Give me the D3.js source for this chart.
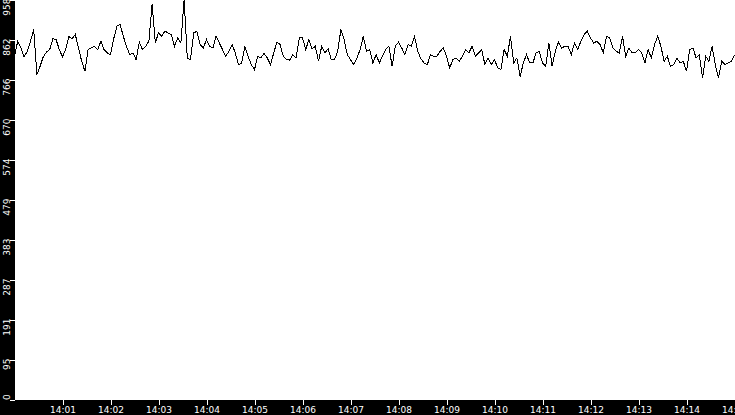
<!DOCTYPE html>
<html>
<head>
<meta charset="utf-8">
<script src="https://cdn.jsdelivr.net/npm/d3@7"></script>
<style>
  html, body { margin: 0; padding: 0; background: #000; }
  svg { display: block; }
</style>
</head>
<body>
<div id="chart"></div>
<script>
// samples every 4 seconds from 14:00:00
var startTime = "2024-01-01 14:00:00";
var stepSeconds = 4;

var values = [
  822,858,842,821,834,858,886,778,798,821,832,838,864,862,838,821,838,869,864,874,842,810,786,838,842,846,838,858,838,830,826,864,894,898,870,846,826,830,
  814,856,838,846,858,946,854,878,870,882,878,874,846,866,854,958,818,814,878,882,850,842,862,846,842,870,854,838,822,834,850,830,802,806,846,822,802,790,
  822,818,829,818,802,830,856,850,822,814,813,826,818,866,866,838,862,840,846,810,846,830,840,814,814,834,886,862,826,814,802,818,838,870,834,838,806,
  826,806,822,838,846,798,846,856,842,826,850,846,870,834,816,806,802,826,822,822,834,842,822,794,814,818,810,822,837,830,846,822,830,838,802,818,802,814,
  794,790,838,822,870,806,818,773,806,826,806,806,830,834,806,798,854,798,834,856,842,846,846,826,854,838,858,874,882,866,854,858,850,830,870,866,842,
  834,830,870,822,842,830,830,838,830,806,838,818,850,870,846,810,822,798,802,818,806,810,786,838,842,818,826,770,822,810,846,802,770,810,802,806,810,826
];

var xTickLabels = ["14:01","14:02","14:03","14:04","14:05","14:06","14:07","14:08",
                   "14:09","14:10","14:11","14:12","14:13","14:14","14:15"];
var yTickLabels = ["0","95","191","287","383","479","574","670","766","862","958"];

var width = 735, height = 415;
var left = 15, plotBottom = 400;

var parseFull = d3.timeParse("%Y-%m-%d %H:%M:%S");
var parseTick = d3.timeParse("%Y-%m-%d %H:%M");
var t0 = parseFull(startTime);

var data = values.map(function(v, i) {
  return { t: d3.timeSecond.offset(t0, i * stepSeconds), v: v };
});

var svg = d3.select("#chart").append("svg")
  .attr("width", width)
  .attr("height", height);

svg.append("rect")
  .attr("x", 0).attr("y", 0)
  .attr("width", width).attr("height", height)
  .attr("fill", "#000");

svg.append("rect")
  .attr("x", left).attr("y", 0)
  .attr("width", width - left).attr("height", plotBottom)
  .attr("fill", "#fff");

var x = d3.scaleTime()
  .domain([t0, d3.timeMinute.offset(t0, 15)])
  .range([left - 0.5, width - 0.5]);

var yMax = d3.max(values);
var y = d3.scaleLinear()
  .domain([0, yMax])
  .range([plotBottom - 0.5, -0.5]);

var line = d3.line()
  .x(function(d) { return x(d.t); })
  .y(function(d) { return y(d.v); });

svg.append("path")
  .datum(data)
  .attr("d", line)
  .attr("fill", "none")
  .attr("stroke", "#000")
  .attr("stroke-width", 1)
  .style("shape-rendering", "crispEdges");

// x axis
var xTicks = xTickLabels.map(function(s) { return parseTick("2024-01-01 " + s); });
var xAxis = d3.axisBottom(x)
  .tickValues(xTicks)
  .tickFormat(d3.timeFormat("%H:%M"))
  .tickSize(5)
  .tickPadding(2);

var gx = svg.append("g")
  .attr("transform", "translate(0," + plotBottom + ")")
  .call(xAxis);
gx.select(".domain").remove();
gx.selectAll("line").attr("stroke", "#fff").style("shape-rendering", "crispEdges");
gx.selectAll("text")
  .attr("fill", "#fff")
  .style("font-family", "'DejaVu Sans', sans-serif")
  .style("font-size", "9px");

// y axis
var yTicks = yTickLabels.map(function(s, i) { return yMax * i / 10; });
var yAxis = d3.axisLeft(y)
  .tickValues(yTicks)
  .tickFormat(function(d, i) { return yTickLabels[i]; })
  .tickSize(5);

var gy = svg.append("g")
  .attr("transform", "translate(" + left + ",0)")
  .call(yAxis);
gy.select(".domain").remove();
gy.selectAll("line").attr("stroke", "#fff").style("shape-rendering", "crispEdges");
gy.selectAll("text")
  .attr("fill", "#fff")
  .attr("transform", "rotate(-90)")
  .attr("x", function(d, i) { return i === 0 ? 0 : 1.5; })
  .attr("y", -5.5)
  .attr("dy", 0)
  .attr("text-anchor", function(d, i) { return i === 0 ? "start" : "end"; })
  .style("font-family", "'DejaVu Sans', sans-serif")
  .style("font-size", "9px");
</script>
</body>
</html>
